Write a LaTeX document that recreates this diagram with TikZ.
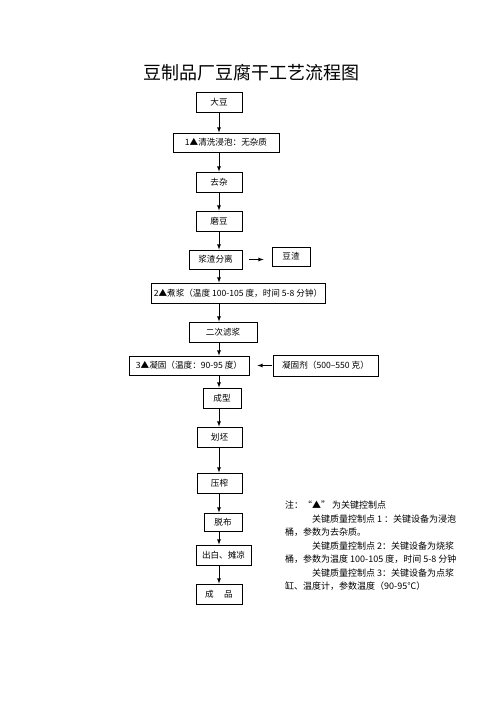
\documentclass[tikz,border=0pt]{standalone}
\usepackage{fontspec}
\setmainfont{Noto Sans CJK SC}
\usetikzlibrary{calc}
\usetikzlibrary{positioning}
\tikzstyle{stepbox}=[%
  draw,
  line width=0.8pt,
  minimum height=20pt,
  inner sep=1pt,
  font=\fontsize{8.6}{10}\selectfont,
  align=center
]
\tikzstyle{flow}=[line width=0.8pt, -latex]

\begin{document}
\begin{tikzpicture}[x=1pt, y=-1pt]
      \useasboundingbox (0,0) rectangle (500,707);
      \node[font=\fontsize{18}{20}\selectfont] (title) at (251,73) {豆制品厂豆腐干工艺流程图};
      \node[stepbox, minimum width=46pt] (dadou) at (219,102) {大豆};
      \node[stepbox, minimum width=106pt, minimum height=19pt] (qingxi) at (226,142.5) {1▲清洗浸泡：无杂质};
      \node[stepbox, minimum width=46pt] (quza) at (219,182) {去杂};
      \node[stepbox, minimum width=46pt] (modou) at (219,221) {磨豆};
      \node[stepbox, minimum width=53pt, minimum height=19pt] (fenli) at (215.5,259.5) {浆渣分离};
      \node[stepbox, minimum width=38pt, minimum height=19pt] (douzha) at (291,256.5) {豆渣};
      \node[stepbox, minimum width=174pt] (zhujiang) at (238,293) {2▲煮浆（温度 100-105 度，时间 5-8 分钟）};
      \node[stepbox, minimum width=68pt] (lvjiang) at (223,332) {二次滤浆};
      \node[stepbox, minimum width=120pt, minimum height=19pt] (ninggu) at (189,365.5) {3▲凝固（温度：90-95 度）};
      \node[stepbox, minimum width=105pt, minimum height=21pt] (ningguji) at (325.5,365.5) {凝固剂（500–550 克）};
      \node[stepbox, minimum width=38pt] (chengxing) at (222,398) {成型};
      \node[stepbox, minimum width=45pt] (huapi) at (219.5,437) {划坯};
      \node[stepbox, minimum width=45pt] (yazha) at (219.5,483) {压榨};
      \node[stepbox, minimum width=38pt, minimum height=18pt] (tuobu) at (223,522) {脱布};
      \node[stepbox, minimum width=55pt] (chubai) at (223.5,555) {出白、摊凉};
      \node[stepbox, minimum width=46pt] (chengpin) at (219,594) {成\hspace{1.2em}品};
      \coordinate (spine) at (219,0);
      \foreach \a/\b in {dadou/qingxi, qingxi/quza, quza/modou, modou/fenli,
          fenli/zhujiang, zhujiang/lvjiang, lvjiang/ninggu, ninggu/chengxing,
          chengxing/huapi, huapi/yazha, yazha/tuobu, tuobu/chubai, chubai/chengpin} {%
        \draw[flow] (\a.south -| spine) -- (\b.north -| spine);
      }
      \draw[flow, shorten <=7pt, shorten >=8pt] (fenli.east) -- (fenli.east -| douzha.west);
      \draw[flow, shorten <=1pt, shorten >=8pt] (ningguji.west) -- (ningguji.west -| ninggu.east);
      \node[anchor=north west, align=left, inner sep=0pt, font=\fontsize{9}{13.5}\selectfont] (note) at (285,501) {%
        注：“▲” 为关键控制点\\
        \hspace{3em}关键质量控制点 1 ：关键设备为浸泡\\
        桶，参数为去杂质。\\
        \hspace{3em}关键质量控制点 2：关键设备为烧浆\\
        桶，参数为温度 100-105 度，时间 5-8 分钟\\
        \hspace{3em}关键质量控制点 3：关键设备为点浆\\
        缸、温度计，参数温度（90-95℃）};
    \end{tikzpicture}
\end{document}
